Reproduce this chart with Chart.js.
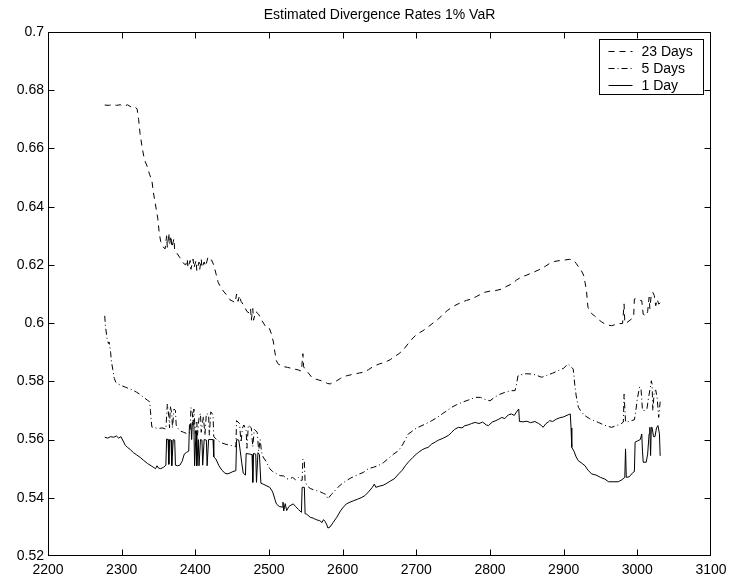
<!DOCTYPE html>
<html>
<head>
<meta charset="utf-8">
<script src="https://cdn.jsdelivr.net/npm/chart.js@4/dist/chart.umd.min.js"></script>
<style>
html,body{margin:0;padding:0;background:#fff;}
#wrap{width:730px;height:584px;position:relative;}
</style>
</head>
<body>
<div id="wrap"><canvas id="c" width="730" height="584"></canvas></div>
<script>
const chartTitle = "Estimated Divergence Rates 1% VaR";
const seriesLabels = ["23 Days", "5 Days", "1 Day"];
const xTicks = [2200, 2300, 2400, 2500, 2600, 2700, 2800, 2900, 3000, 3100];
const yTicks = [0.52, 0.54, 0.56, 0.58, 0.6, 0.62, 0.64, 0.66, 0.68, 0.7];

const x23 = [2277,2283,2288,2293,2298,2303,2308,2313,2318,2321,2323,2325,2328,2331,2334,2338,2341,2343,2345,2347,2349,2351,2353,2356,2359,2361,2362,2364,2365,2367,2368,2371,2372,2375,2379,2384,2387,2389,2390,2393,2394,2397,2398,2401,2402,2405,2406,2408,2409,2412,2414,2417,2419,2422,2425,2428,2431,2434,2438,2443,2447,2451,2454,2456,2458,2460,2462,2466,2470,2473,2475,2476,2478,2479,2482,2486,2490,2495,2500,2503,2506,2508,2510,2513,2517,2521,2525,2530,2535,2540,2544,2546,2547,2549,2553,2558,2563,2567,2571,2575,2579,2583,2587,2592,2597,2602,2607,2612,2618,2623,2628,2635,2642,2650,2657,2665,2670,2676,2683,2689,2694,2700,2705,2709,2715,2720,2725,2730,2736,2742,2747,2752,2760,2768,2775,2782,2788,2793,2800,2808,2816,2823,2830,2836,2843,2850,2856,2861,2868,2875,2881,2888,2895,2902,2908,2913,2917,2920,2924,2927,2929,2931,2932,2933,2936,2939,2942,2946,2951,2956,2961,2965,2970,2975,2980,2982,2983,2986,2990,2992,2995,2996,2999,3002,3004,3006,3008,3012,3014,3016,3017,3019,3021,3023,3025,3027,3029,3031];
const y23 = [0.6749,0.6748,0.6752,0.6748,0.6750,0.6745,0.6750,0.6742,0.6744,0.6735,0.6700,0.6650,0.6600,0.6560,0.6543,0.6510,0.6490,0.6450,0.6420,0.6390,0.6360,0.6310,0.6280,0.6262,0.6255,0.6300,0.6260,0.6310,0.6270,0.6300,0.6260,0.6290,0.6250,0.6240,0.6225,0.6205,0.6200,0.6220,0.6190,0.6215,0.6185,0.6220,0.6190,0.6215,0.6180,0.6210,0.6185,0.6220,0.6190,0.6210,0.6195,0.6225,0.6215,0.6217,0.6200,0.6170,0.6140,0.6125,0.6110,0.6095,0.6080,0.6075,0.6070,0.6100,0.6075,0.6095,0.6075,0.6060,0.6040,0.6035,0.6050,0.6010,0.6050,0.6010,0.6040,0.6030,0.6010,0.5990,0.5985,0.5965,0.5935,0.5900,0.5870,0.5858,0.5855,0.5850,0.5848,0.5845,0.5842,0.5839,0.5835,0.5895,0.5850,0.5842,0.5830,0.5814,0.5808,0.5805,0.5802,0.5800,0.5793,0.5791,0.5797,0.5802,0.5810,0.5817,0.5820,0.5823,0.5826,0.5829,0.5831,0.5840,0.5852,0.5860,0.5865,0.5875,0.5885,0.5894,0.5910,0.5930,0.5945,0.5960,0.5968,0.5974,0.5985,0.5995,0.6005,0.6014,0.6030,0.6043,0.6052,0.6060,0.6070,0.6078,0.6083,0.6092,0.6100,0.6106,0.6110,0.6112,0.6117,0.6127,0.6135,0.6148,0.6159,0.6165,0.6172,0.6177,0.6185,0.6195,0.6205,0.6212,0.6215,0.6217,0.6219,0.6217,0.6205,0.6194,0.6180,0.6165,0.6140,0.6110,0.6080,0.6054,0.6040,0.6030,0.6025,0.6015,0.6005,0.5997,0.5993,0.5991,0.5995,0.5998,0.5999,0.6066,0.6000,0.6002,0.6010,0.6014,0.6020,0.6083,0.6085,0.6080,0.6078,0.6077,0.6030,0.6025,0.6040,0.6089,0.6050,0.6100,0.6106,0.6095,0.6060,0.6082,0.6065,0.6070];

const x5 = [2277,2278,2280,2282,2283,2285,2286,2288,2290,2292,2296,2300,2305,2310,2315,2320,2325,2330,2335,2338,2339,2340,2341,2345,2350,2355,2360,2362,2364,2365,2366,2368,2369,2371,2373,2374,2376,2379,2384,2389,2393,2394,2396,2397,2398,2400,2402,2403,2405,2407,2408,2411,2413,2415,2418,2419,2421,2424,2425,2429,2434,2440,2447,2452,2455,2456,2458,2460,2462,2464,2466,2469,2470,2472,2476,2478,2480,2484,2486,2488,2490,2492,2496,2501,2505,2510,2515,2520,2524,2528,2532,2536,2540,2543,2545,2546,2548,2549,2552,2556,2560,2565,2570,2574,2577,2580,2584,2588,2593,2599,2605,2611,2617,2623,2628,2635,2642,2648,2655,2662,2669,2676,2682,2686,2689,2694,2698,2705,2712,2721,2728,2735,2742,2748,2755,2762,2770,2775,2780,2787,2793,2800,2806,2813,2820,2828,2834,2836,2838,2845,2850,2856,2862,2870,2877,2885,2893,2900,2906,2910,2913,2915,2917,2920,2924,2929,2935,2941,2947,2953,2959,2965,2972,2979,2981,2982,2984,2988,2992,2996,2998,3000,3003,3005,3007,3010,3013,3015,3017,3019,3020,3021,3023,3025,3027,3029,3031];
const y5 = [0.6025,0.5990,0.5950,0.5930,0.5935,0.5900,0.5870,0.5840,0.5810,0.5797,0.5790,0.5785,0.5780,0.5775,0.5770,0.5763,0.5755,0.5745,0.5735,0.5730,0.5700,0.5670,0.5643,0.5640,0.5638,0.5640,0.5636,0.5722,0.5680,0.5640,0.5715,0.5690,0.5640,0.5705,0.5700,0.5650,0.5640,0.5630,0.5625,0.5620,0.5625,0.5710,0.5690,0.5650,0.5705,0.5620,0.5660,0.5615,0.5675,0.5690,0.5625,0.5680,0.5615,0.5690,0.5685,0.5615,0.5695,0.5685,0.5610,0.5600,0.5590,0.5585,0.5580,0.5578,0.5575,0.5665,0.5660,0.5655,0.5590,0.5640,0.5650,0.5630,0.5570,0.5650,0.5640,0.5575,0.5635,0.5625,0.5560,0.5600,0.5555,0.5540,0.5525,0.5500,0.5490,0.5483,0.5476,0.5475,0.5465,0.5465,0.5470,0.5462,0.5470,0.5460,0.5460,0.5533,0.5525,0.5455,0.5440,0.5432,0.5428,0.5424,0.5420,0.5415,0.5412,0.5396,0.5410,0.5420,0.5435,0.5448,0.5459,0.5468,0.5475,0.5482,0.5487,0.5500,0.5505,0.5510,0.5520,0.5535,0.5550,0.5562,0.5585,0.5605,0.5619,0.5628,0.5636,0.5645,0.5653,0.5665,0.5675,0.5688,0.5700,0.5711,0.5720,0.5728,0.5735,0.5740,0.5745,0.5745,0.5738,0.5733,0.5745,0.5755,0.5762,0.5768,0.5768,0.5790,0.5819,0.5825,0.5826,0.5825,0.5822,0.5814,0.5820,0.5828,0.5837,0.5845,0.5860,0.5850,0.5842,0.5791,0.5750,0.5711,0.5695,0.5682,0.5672,0.5665,0.5659,0.5652,0.5646,0.5642,0.5648,0.5656,0.5660,0.5756,0.5660,0.5662,0.5665,0.5668,0.5700,0.5740,0.5780,0.5775,0.5700,0.5700,0.5705,0.5740,0.5770,0.5802,0.5790,0.5700,0.5766,0.5770,0.5740,0.5676,0.5730];

const x1 = [2277,2281,2285,2289,2293,2296,2299,2302,2305,2308,2312,2316,2320,2325,2330,2335,2340,2343,2346,2348,2350,2353,2357,2360,2361,2363,2364,2365,2367,2368,2370,2372,2373,2376,2379,2382,2385,2388,2391,2392,2394,2395,2396,2398,2399,2401,2402,2404,2405,2407,2409,2410,2412,2415,2416,2418,2424,2425,2428,2432,2436,2440,2443,2447,2451,2455,2456,2459,2461,2463,2465,2468,2469,2474,2477,2478,2479,2482,2483,2485,2487,2489,2492,2496,2501,2505,2508,2510,2514,2518,2519,2520,2522,2524,2527,2530,2533,2536,2540,2544,2545,2548,2549,2551,2556,2560,2564,2569,2572,2574,2576,2578,2580,2583,2587,2592,2597,2601,2605,2610,2615,2620,2625,2630,2635,2640,2643,2645,2650,2655,2660,2665,2670,2676,2681,2685,2690,2695,2700,2703,2708,2712,2716,2721,2726,2730,2735,2739,2744,2748,2752,2757,2762,2766,2770,2775,2780,2785,2790,2795,2798,2803,2808,2812,2816,2820,2825,2829,2833,2836,2839,2840,2845,2850,2855,2861,2866,2870,2872,2876,2879,2881,2885,2890,2895,2900,2906,2909,2910,2911,2914,2917,2920,2925,2929,2933,2938,2944,2950,2956,2961,2967,2974,2979,2983,2984,2985,2989,2994,2996,2997,3000,3004,3006,3007,3008,3012,3014,3016,3017,3018,3019,3020,3022,3024,3026,3028,3030,3031];
const y1 = [0.5608,0.5605,0.5610,0.5608,0.5612,0.5605,0.5610,0.5595,0.5580,0.5573,0.5565,0.5555,0.5548,0.5539,0.5528,0.5518,0.5510,0.5505,0.5500,0.5510,0.5502,0.5500,0.5505,0.5512,0.5602,0.5600,0.5515,0.5600,0.5598,0.5510,0.5600,0.5598,0.5512,0.5510,0.5512,0.5525,0.5550,0.5556,0.5560,0.5650,0.5655,0.5600,0.5660,0.5655,0.5510,0.5630,0.5510,0.5600,0.5510,0.5600,0.5598,0.5512,0.5600,0.5598,0.5510,0.5600,0.5600,0.5540,0.5533,0.5510,0.5495,0.5485,0.5482,0.5485,0.5490,0.5493,0.5600,0.5598,0.5560,0.5520,0.5485,0.5478,0.5552,0.5550,0.5548,0.5453,0.5552,0.5550,0.5453,0.5555,0.5548,0.5450,0.5447,0.5442,0.5436,0.5420,0.5395,0.5379,0.5370,0.5368,0.5385,0.5355,0.5380,0.5356,0.5370,0.5375,0.5379,0.5370,0.5360,0.5350,0.5436,0.5436,0.5345,0.5344,0.5333,0.5330,0.5325,0.5321,0.5315,0.5325,0.5319,0.5310,0.5296,0.5300,0.5315,0.5333,0.5355,0.5368,0.5379,0.5385,0.5390,0.5395,0.5400,0.5407,0.5420,0.5435,0.5447,0.5436,0.5440,0.5443,0.5450,0.5458,0.5465,0.5482,0.5495,0.5510,0.5525,0.5538,0.5550,0.5556,0.5565,0.5570,0.5573,0.5585,0.5592,0.5598,0.5603,0.5608,0.5615,0.5625,0.5635,0.5642,0.5640,0.5648,0.5650,0.5655,0.5659,0.5655,0.5660,0.5650,0.5648,0.5660,0.5665,0.5670,0.5676,0.5672,0.5685,0.5688,0.5683,0.5695,0.5705,0.5662,0.5661,0.5663,0.5658,0.5662,0.5655,0.5648,0.5642,0.5655,0.5660,0.5665,0.5662,0.5670,0.5675,0.5678,0.5685,0.5688,0.5640,0.5573,0.5560,0.5540,0.5527,0.5518,0.5510,0.5495,0.5482,0.5478,0.5470,0.5464,0.5455,0.5455,0.5455,0.5462,0.5470,0.5568,0.5470,0.5472,0.5487,0.5490,0.5591,0.5595,0.5600,0.5619,0.5560,0.5522,0.5522,0.5550,0.5620,0.5642,0.5545,0.5642,0.5642,0.5610,0.5610,0.5640,0.5648,0.5620,0.5544];

const FONT = "'Liberation Sans', Arial, Helvetica, sans-serif";

function pts(xs, ys) { return xs.map((x, i) => ({ x: x, y: ys[i] })); }

const boxTicksPlugin = {
  id: 'boxTicks',
  afterDraw(chart) {
    const ctx = chart.ctx;
    const a = chart.chartArea;
    const xs = chart.scales.x, ys = chart.scales.y;
    const L = Math.round(a.left) + 0.5, R = Math.round(a.right) - 0.5;
    const T = Math.round(a.top) + 0.5, B = Math.round(a.bottom) - 0.5;
    ctx.save();
    ctx.strokeStyle = '#000';
    ctx.lineWidth = 1;
    ctx.setLineDash([]);
    ctx.beginPath();
    const tl = 6;
    xs.ticks.forEach(t => {
      const p = Math.round(xs.getPixelForValue(t.value)) + 0.5;
      if (p <= L + 1 || p >= R - 1) return;
      ctx.moveTo(p, B); ctx.lineTo(p, B - tl);
      ctx.moveTo(p, T); ctx.lineTo(p, T + tl);
    });
    ys.ticks.forEach(t => {
      const p = Math.round(ys.getPixelForValue(t.value)) + 0.5;
      if (p <= T + 1 || p >= B - 1) return;
      ctx.moveTo(L, p); ctx.lineTo(L + tl, p);
      ctx.moveTo(R, p); ctx.lineTo(R - tl, p);
    });
    ctx.stroke();
    ctx.strokeRect(L, T, R - L, B - T);

    // legend
    const bw = 104, bh = 55;
    const bx = Math.round(a.right) - 8 - bw + 0.5;
    const by = Math.round(a.top) + 7 + 0.5;
    ctx.fillStyle = '#fff';
    ctx.fillRect(bx, by, bw, bh);
    ctx.strokeRect(bx, by, bw, bh);
    ctx.font = '14px ' + FONT;
    ctx.textBaseline = 'middle';
    ctx.textAlign = 'left';
    ctx.fillStyle = '#000';
    chart.data.datasets.forEach((ds, i) => {
      const yy = Math.round(by + 11 + i * 17) + 0.5;
      ctx.setLineDash(ds.borderDash || []);
      ctx.beginPath();
      ctx.moveTo(bx + 9, yy);
      ctx.lineTo(bx + 33, yy);
      ctx.stroke();
      ctx.setLineDash([]);
      ctx.fillText(ds.label, bx + 42, yy + 0.5);
    });
    ctx.restore();
  }
};

new Chart(document.getElementById('c'), {
  type: 'line',
  data: {
    datasets: [
      { label: seriesLabels[0], data: pts(x23, y23), borderColor: '#000', borderWidth: 1, borderDash: [6, 5], pointRadius: 0, fill: false, tension: 0 },
      { label: seriesLabels[1], data: pts(x5, y5), borderColor: '#000', borderWidth: 1, borderDash: [6, 3, 1, 3], pointRadius: 0, fill: false, tension: 0 },
      { label: seriesLabels[2], data: pts(x1, y1), borderColor: '#000', borderWidth: 1, pointRadius: 0, fill: false, tension: 0 }
    ]
  },
  options: {
    responsive: false,
    animation: false,
    devicePixelRatio: 1,
    layout: { padding: { left: 0, right: 19, top: 0, bottom: 0 } },
    plugins: {
      legend: { display: false },
      tooltip: { enabled: false },
      title: {
        display: true,
        fullSize: false,
        text: chartTitle,
        color: '#000',
        font: { family: FONT, size: 14, weight: 'normal' },
        padding: { top: 6.6, bottom: 8.6 }
      }
    },
    scales: {
      x: {
        type: 'linear',
        min: 2200, max: 3100,
        afterBuildTicks: s => { s.ticks = xTicks.map(v => ({ value: v })); },
        afterFit: s => { s.height = 28; s.paddingLeft = 0; s.paddingRight = 0; },
        grid: { display: false, drawTicks: false },
        border: { display: false },
        ticks: { color: '#000', padding: 6, maxRotation: 0, autoSkip: false, font: { family: FONT, size: 14 }, callback: v => String(v) }
      },
      y: {
        type: 'linear',
        min: 0.52, max: 0.7,
        afterBuildTicks: s => { s.ticks = yTicks.map(v => ({ value: v })); },
        afterFit: s => { s.width = 48; s.paddingTop = 0; s.paddingBottom = 0; },
        grid: { display: false, drawTicks: false },
        border: { display: false },
        ticks: { color: '#000', padding: 4, autoSkip: false, font: { family: FONT, size: 14 }, callback: v => String(Math.round(v * 100) / 100) }
      }
    }
  },
  plugins: [boxTicksPlugin]
});
</script>
</body>
</html>
